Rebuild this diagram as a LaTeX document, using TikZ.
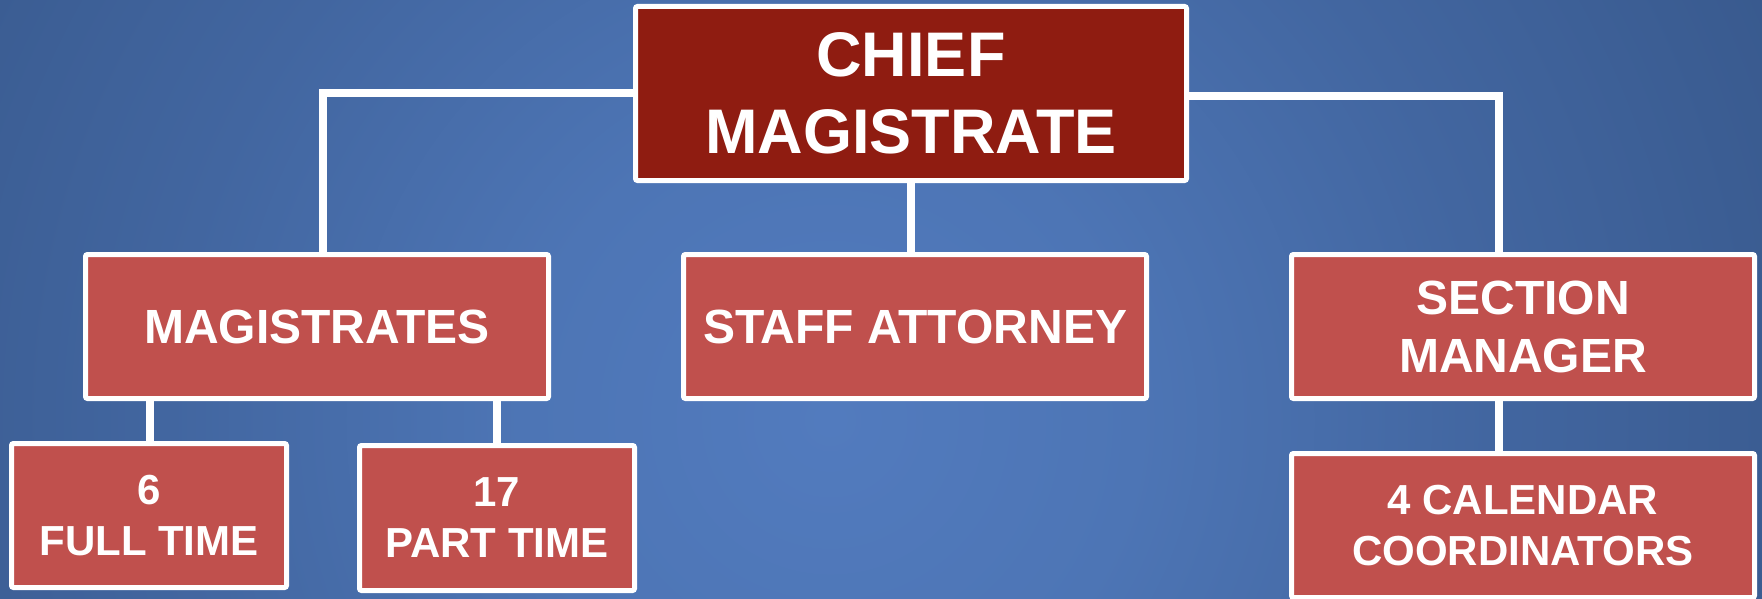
\documentclass[tikz,border=0pt]{standalone}
\usepackage{fontspec}
\setmainfont{Liberation Sans}
\usetikzlibrary{backgrounds}
\definecolor{bg0}{RGB}{82,123,190}
\definecolor{bg1}{RGB}{77,117,181}
\definecolor{bg2}{RGB}{66,102,160}
\definecolor{bg3}{RGB}{56,89,141}
\definecolor{bg4}{RGB}{48,80,127}
\definecolor{chiefred}{RGB}{143,28,17}
\definecolor{boxred}{RGB}{192,80,77}
\pgfdeclareradialshading{bgshade}{\pgfpoint{0bp}{0bp}}{color(0bp)=(bg0); color(7bp)=(bg1); color(15bp)=(bg2); color(24bp)=(bg3); color(33bp)=(bg4); color(50bp)=(bg4)}
\tikzset{
  orgbox/.style={draw=white, line width=5pt, rounded corners=2pt, fill=boxred,
    text=white, align=center, inner sep=0pt, font=\bfseries\fontsize{48}{58}\selectfont},
  chiefbox/.style={orgbox, fill=chiefred, font=\bfseries\fontsize{63}{77}\selectfont},
  smallbox/.style={orgbox, font=\bfseries\fontsize{42}{51}\selectfont},
  conn/.style={draw=white, line width=8pt}
}
\begin{document}
\begin{tikzpicture}[x=1pt, y=-1pt]
\useasboundingbox (0,0) rectangle (1762,599);
\node[chiefbox, minimum width=551pt, minimum height=174pt] (chief) at (911,93.5) {CHIEF\\MAGISTRATE};
\node[orgbox, minimum width=463pt, minimum height=144pt] (mag) at (317,326.5) {MAGISTRATES};
\node[orgbox, minimum width=463pt, minimum height=144pt] (staff) at (915,326.5) {STAFF ATTORNEY};
\node[orgbox, minimum width=463pt, minimum height=144pt] (sect) at (1523,326.5) {SECTION\\MANAGER};
\node[smallbox, minimum width=275pt, minimum height=144pt] (full) at (149,515.5) {6\\FULL TIME};
\node[smallbox, minimum width=275pt, minimum height=145pt] (part) at (497,518) {17\\PART TIME};
\node[smallbox, minimum width=463pt, minimum height=144pt] (cal) at (1523,525.5) {4 CALENDAR\\COORDINATORS};
\begin{scope}[on background layer]
  \begin{scope}
    \clip (0,0) rectangle (1762,599);
    \shade[shading=bgshade] (830,420) circle (1100);
  \end{scope}
  \draw[conn] (chief.west) -| ([xshift=6pt]mag.north);
  \draw[conn] ([yshift=-2.5pt]chief.east) -| ([xshift=-24pt]sect.north);
  \draw[conn] (chief.south) -- (chief.south |- staff.north);
  \draw[conn] ([xshift=1pt]full.north) -- ([xshift=1pt]full.north |- mag.south);
  \draw[conn] (part.north) -- (part.north |- mag.south);
  \draw[conn] ([xshift=-24pt]sect.south) -- ([xshift=-24pt]cal.north);
\end{scope}
\end{tikzpicture}
\end{document}
